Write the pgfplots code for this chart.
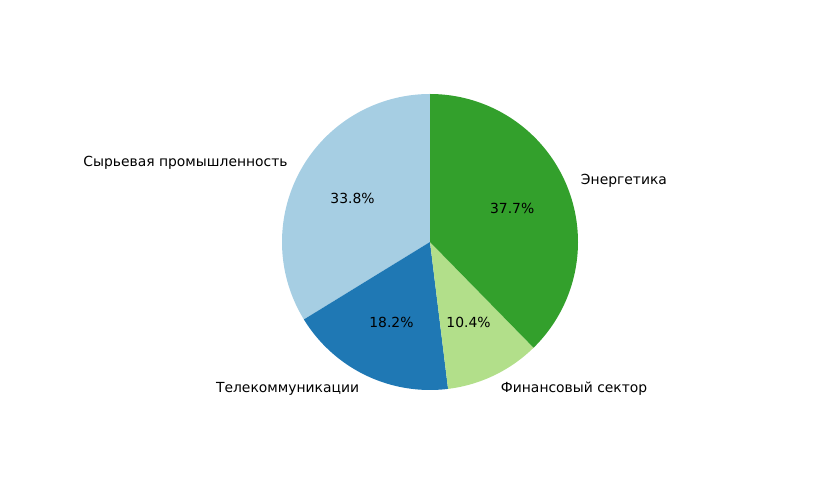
\documentclass[border=0pt]{standalone}
\usepackage{pgfplots}
\pgfplotsset{compat=1.18}
\usepackage{fontspec}
\setmainfont{DejaVu Sans}
\definecolor{cA}{HTML}{A6CEE3}
\definecolor{cB}{HTML}{1F78B4}
\definecolor{cC}{HTML}{B2DF8A}
\definecolor{cD}{HTML}{33A02C}
\begin{document}
\begin{tikzpicture}
% shares (percent)
\def\vA{33.8}% Сырьевая промышленность
\def\vB{18.2}% Телекоммуникации
\def\vC{10.4}% Финансовый сектор
\def\vD{37.7}% Энергетика
\pgfmathsetmacro\tot{\vA+\vB+\vC+\vD}
\pgfmathsetmacro\aA{90}
\pgfmathsetmacro\aB{\aA+\vA/\tot*360}
\pgfmathsetmacro\aC{\aB+\vB/\tot*360}
\pgfmathsetmacro\aD{\aC+\vC/\tot*360}
\pgfmathsetmacro\aE{\aD+\vD/\tot*360}
\pgfmathsetmacro\mA{(\aA+\aB)/2}
\pgfmathsetmacro\mB{(\aB+\aC)/2}
\pgfmathsetmacro\mC{(\aC+\aD)/2}
\pgfmathsetmacro\mD{(\aD+\aE)/2}
\begin{axis}[
  scale only axis, width=604.8pt, height=345.6pt,
  xmin=-2.9054, xmax=2.7703, ymin=-1.6081, ymax=1.6351,
  hide axis, clip=false,
]
\path (rel axis cs:0,0) rectangle (rel axis cs:1,1);
\addplot[fill=cA, draw=none, domain=\aA:\aB, samples=120, variable=\t] ({cos(\t)},{sin(\t)}) -- (axis cs:0,0) -- cycle;
\addplot[fill=cB, draw=none, domain=\aB:\aC, samples=80, variable=\t] ({cos(\t)},{sin(\t)}) -- (axis cs:0,0) -- cycle;
\addplot[fill=cC, draw=none, domain=\aC:\aD, samples=60, variable=\t] ({cos(\t)},{sin(\t)}) -- (axis cs:0,0) -- cycle;
\addplot[fill=cD, draw=none, domain=\aD:\aE, samples=120, variable=\t] ({cos(\t)},{sin(\t)}) -- (axis cs:0,0) -- cycle;
\begin{scope}[font=\fontsize{10}{12}\selectfont, inner sep=0pt]
\node[anchor=east] at (axis cs:{1.1*cos(\mA)},{1.1*sin(\mA)}) {Сырьевая промышленность};
\node[anchor=east] at (axis cs:{1.1*cos(\mB)},{1.1*sin(\mB)}) {Телекоммуникации};
\node[anchor=west] at (axis cs:{1.1*cos(\mC)},{1.1*sin(\mC)}) {Финансовый сектор};
\node[anchor=west] at (axis cs:{1.1*cos(\mD)},{1.1*sin(\mD)}) {Энергетика};
\node at (axis cs:{0.6*cos(\mA)},{0.6*sin(\mA)}) {33.8\%};
\node at (axis cs:{0.6*cos(\mB)},{0.6*sin(\mB)}) {18.2\%};
\node at (axis cs:{0.6*cos(\mC)},{0.6*sin(\mC)}) {10.4\%};
\node at (axis cs:{0.6*cos(\mD)},{0.6*sin(\mD)}) {37.7\%};
\end{scope}
\end{axis}
\end{tikzpicture}
\end{document}
